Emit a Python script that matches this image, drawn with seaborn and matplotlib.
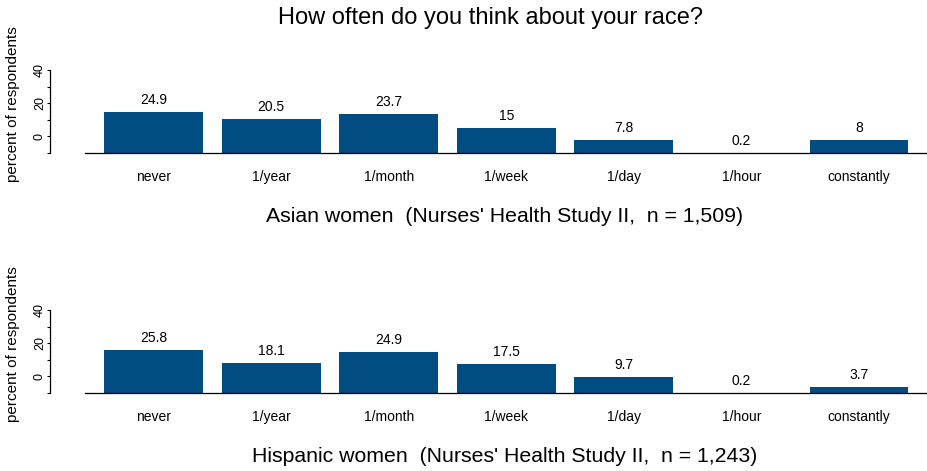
"""Bar charts: how often respondents think about their race (Nurses' Health Study II)."""
import pandas as pd
import matplotlib
matplotlib.use("Agg")
import matplotlib.pyplot as plt
import seaborn as sns

categories = ["never", "1/year", "1/month", "1/week", "1/day", "1/hour", "constantly"]
asian_pct = [24.9, 20.5, 23.7, 15, 7.8, 0.2, 8]
hispanic_pct = [25.8, 18.1, 24.9, 17.5, 9.7, 0.2, 3.7]

title = "How often do you think about your race?"
subtitles = [
    "Asian women  (Nurses' Health Study II,  n = 1,509)",
    "Hispanic women  (Nurses' Health Study II,  n = 1,243)",
]

sns.set_style("white")
plt.rcParams["font.family"] = ["Liberation Sans", "DejaVu Sans"]
plt.rcParams["text.color"] = "black"
plt.rcParams["xtick.color"] = "black"
plt.rcParams["ytick.color"] = "black"

bar_color = "#014c80"
W, H = 928, 471

fig = plt.figure(figsize=(W / 100, H / 100), dpi=100)

fig.text(491 / W, 1 - 18 / H, title, ha="center", va="center", fontsize=17)

for i, (vals, sub) in enumerate(zip([asian_pct, hispanic_pct], subtitles)):
    off = 240 * i
    ax = fig.add_axes([50 / W, 1 - (153 + off) / H, 878 / W, 83 / H])
    df = pd.DataFrame({"cat": categories, "pct": vals})
    sns.barplot(data=df, x="cat", y="pct", color=bar_color, saturation=1,
                width=0.84, linewidth=0, ax=ax)
    ax.bar_label(ax.containers[0], labels=[f"{v:g}" for v in vals],
                 padding=3.5, fontsize=10, color="black")

    # axis drawn from -10 to 40 with the bars starting at its bottom
    ax.set_ylim(0, 50)
    ax.set_xlim(-0.881, 6.587)
    ax.set_yticks([0, 10, 20, 30, 40, 50])
    ax.set_yticklabels(["", "0", "", "20", "", "40"], rotation=90,
                       va="center", fontsize=9)
    ax.tick_params(axis="y", length=2.5, width=0.8, pad=0.5, left=True)
    ax.tick_params(axis="x", length=0, pad=12, labelsize=10)
    ax.set_xlabel("")
    ax.set_ylabel("")

    for s in ["top", "right"]:
        ax.spines[s].set_visible(False)
    ax.spines["left"].set_bounds(0, 50)
    ax.spines["bottom"].set_bounds(-0.583, 6.587)
    for s in ["left", "bottom"]:
        ax.spines[s].set_color("black")
        ax.spines[s].set_linewidth(0.9)

    fig.text(13 / W, 1 - (104 + off) / H, "percent of respondents",
             rotation=90, ha="center", va="center", fontsize=11)
    fig.text(505 / W, 1 - (216 + off) / H, sub, ha="center", va="center",
             fontsize=15.3)

plt.savefig("out.png", dpi=100)
plt.close()
